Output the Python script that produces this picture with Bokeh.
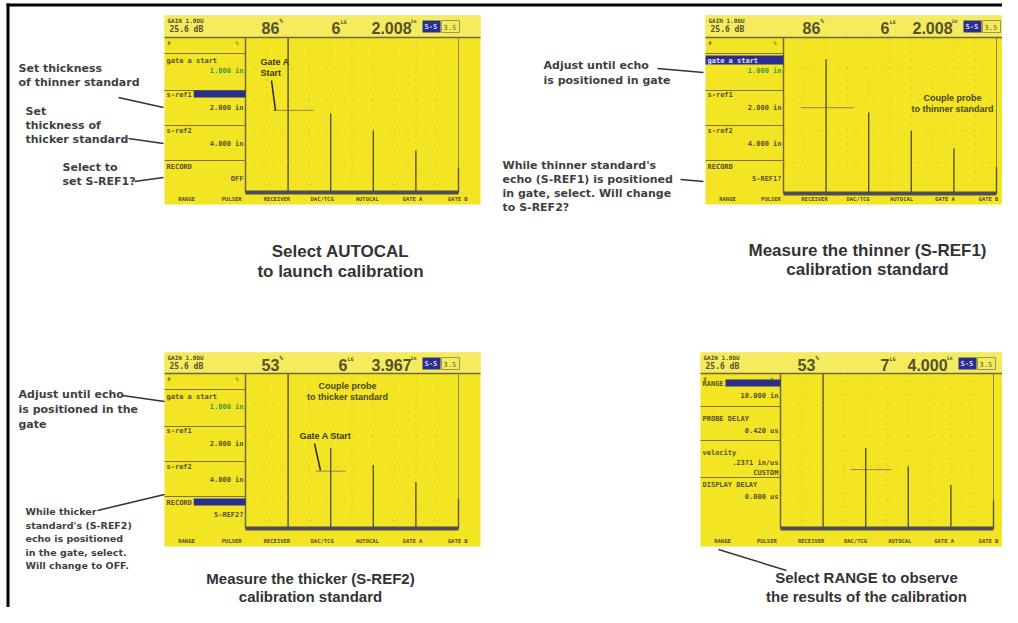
from bokeh.plotting import figure
from bokeh.models import Range1d
from bokeh.core.properties import value
from bokeh.embed import file_html
from bokeh.resources import INLINE

# ------------------------------------------------------------------ data
softkeys = ["RANGE", "PULSER", "RECEIVER", "DAC/TCG", "AUTOCAL", "GATE A", "GATE B"]
echo_in = [2, 4, 6, 8, 10]                 # echo positions (in), 10 in screen range
amp_autocal = [100, 51, 40, 27, 16]        # echo heights, % full screen height
amp_thinner = [86, 52, 40, 29, 17]
amp_thicker = [100, 52, 41, 30, 19]
amp_range = [100, 52, 40, 28, 18]
gate_autocal = [1.3, 3.2, 53]              # gate start (in), end (in), level (%)
gate_thinner = [0.8, 3.3, 55]
gate_thicker = [3.3, 4.7, 37]
gate_range = [3.3, 5.2, 38]
readout_amp = ["86", "86", "53", "53"]
readout_leg = ["6", "6", "6", "7"]
readout_thk = ["2.008", "2.008", "3.967", "4.000"]
menu_cal_labels = ["gate a start", "s-ref1", "s-ref2", "RECORD"]
menu_autocal_values = ["1.000 in", "2.000 in", "4.000 in", "OFF"]
menu_thinner_values = ["1.000 in", "2.000 in", "4.000 in", "S-REF1?"]
menu_thicker_values = ["1.000 in", "2.000 in", "4.000 in", "S-REF2?"]
menu_range_labels = ["RANGE", "PROBE DELAY", "velocity", "DISPLAY DELAY"]
menu_range_values = ["10.000 in", "0.420 us", ".2371 in/us", "0.000 us"]
caption_autocal = ["Select AUTOCAL", "to launch calibration"]
caption_thinner = ["Measure the thinner (S-REF1)", "calibration standard"]
caption_thicker = ["Measure the thicker (S-REF2)", "calibration standard"]
caption_range = ["Select RANGE to observe", "the results of the calibration"]
note_sref1 = ["Set thickness", "of thinner standard"]
note_sref2 = ["Set", "thickness of", "thicker standard"]
note_record1 = ["Select to", "set S-REF1?"]
note_gate1 = ["Adjust until echo", "is positioned in gate"]
note_sel1 = ["While thinner standard's", "echo (S-REF1) is positioned",
             "in gate, select. Will change", "to S-REF2?"]
note_gate2 = ["Adjust until echo", "is positioned in the", "gate"]
note_sel2 = ["While thicker", "standard's (S-REF2)", "echo is positioned",
             "in the gate, select.", "Will change to OFF."]
couple_thinner = ["Couple probe", "to thinner standard"]
couple_thicker = ["Couple probe", "to thicker standard"]

# ------------------------------------------------------------------ style
YEL = "#f3e424"
YEL_H = "#f4eb5e"
INK = "#55512a"
ECHO = "#5a5630"
BLUE = "#2b2f8c"
GREEN = "#3f9a3a"
GRIDC = "#c4b81e"
NOTE = "#3f3f3f"
CAP = "#333333"

W, H = 1002, 607
p = figure(width=W, height=H, output_backend="svg", toolbar_location=None,
           x_range=Range1d(0, W), y_range=Range1d(H, 0),
           x_axis_type=None, y_axis_type=None, min_border=0)
p.grid.visible = False
p.outline_line_color = None
p.background_fill_color = "white"
p.border_fill_color = "white"

# screen layouts: key, x0, y0, x1, header bottom, panel right, graph right, baseline, bottom
layouts = [
    ("a", 164, 15, 480, 37, 245, 458, 192, 204),
    ("b", 705, 15, 1002, 37, 783, 996, 193, 204),
    ("c", 164, 352, 480, 373, 245, 458, 528, 546),
    ("d", 700, 352, 1002, 373, 780, 993, 528, 546),
]
xr, yr = {}, {}
for key, x0, y0, x1, hb, pr, gr, base, bot in layouts:
    kx = (gr - pr) / 10.0
    ky = (base - hb) / 100.0
    xr[key] = Range1d(-pr / kx, (W - pr) / kx)
    yr[key] = Range1d((base - H) / ky, base / ky)
p.extra_x_ranges = xr
p.extra_y_ranges = yr


def T(x, y, s, size, color=INK, font="DejaVu Sans Mono", style="bold",
      align="left", base="middle"):
    p.text(x=[x], y=[y], text=[s], text_font=value(font),
           text_font_size=f"{size}px", text_font_style=style,
           text_color=color, text_align=align, text_baseline=base)


def screen(lay, amps, gate, amp_txt, leg_txt, thk_txt, labels, values, hl,
           full_hl, rng=False, leg_dx=167):
    key, x0, y0, x1, hb, pr, gr, base, bot = lay
    p.quad(left=x0, right=x1, top=y0, bottom=bot, fill_color=YEL, line_color=None)
    p.quad(left=x0, right=x1, top=y0, bottom=hb, fill_color=YEL_H, line_color=None)
    p.segment(x0=x0, y0=hb, x1=x1, y1=hb, line_color="#6d6838", line_width=1.5)
    p.segment(x0=pr, y0=hb, x1=pr, y1=base, line_color="#6d6838", line_width=1.5)
    p.segment(x0=gr, y0=hb, x1=gr, y1=base, line_color="#8d8740", line_width=1)
    # grid (inches / percent through the screen scales)
    gx = [1, 2, 3, 4, 5, 6, 7, 8, 9]
    p.segment(x0=gx, y0=[0] * 9, x1=gx, y1=[100] * 9, x_range_name=key,
              y_range_name=key, line_color=GRIDC, line_dash="1 6", line_width=1)
    gy = [20, 40, 60, 80]
    p.segment(x0=[0] * 4, y0=gy, x1=[10] * 4, y1=gy, x_range_name=key,
              y_range_name=key, line_color=GRIDC, line_dash="1 8", line_width=1)
    # gate
    p.segment(x0=[gate[0]], y0=[gate[2]], x1=[gate[1]], y1=[gate[2]],
              x_range_name=key, y_range_name=key, line_color="#8f8a55", line_width=1)
    # echoes
    p.segment(x0=echo_in, y0=[0] * len(echo_in), x1=echo_in, y1=amps,
              x_range_name=key, y_range_name=key, line_color=ECHO, line_width=1.4)
    # baseline band
    p.segment(x0=[0], y0=[0], x1=[10], y1=[0], x_range_name=key, y_range_name=key,
              line_color="#4d4d5a", line_width=4)
    # header
    T(x0 + 3, y0 + 5, "GAIN  1.0DU", 6)
    T(x0 + 5, y0 + 14, "25.6 dB", 8)
    T(x0 + 97, y0 + 12, amp_txt, 16, font="Liberation Sans")
    T(x0 + 115, y0 + 5, "%", 6)
    T(x0 + leg_dx, y0 + 12, leg_txt, 16, font="Liberation Sans")
    T(x0 + leg_dx + 9, y0 + 6, "LG", 5)
    T(x0 + 207, y0 + 12, thk_txt, 16, font="Liberation Sans")
    T(x0 + 246, y0 + 5, "in", 5)
    p.quad(left=x0 + 258, right=x0 + 276, top=y0 + 5, bottom=y0 + 17,
           fill_color=BLUE, line_color=None)
    T(x0 + 260, y0 + 11, "S-S", 7, color="#d8d8f0")
    p.quad(left=x0 + 277, right=x0 + 295, top=y0 + 5, bottom=y0 + 17,
           fill_color=None, line_color="#9d9750", line_width=1)
    T(x0 + 279, y0 + 11, "3.5", 7, color="#8a8540")
    T(x0 + 3, hb + 5, "0", 5)
    T(pr - 10, hb + 5, "%", 5)
    # menu panel
    if not rng:
        seps = [16, 53, 88, 123]
        lys = [23, 57, 93, 129]
        vys = [33, 70, 106, 141]
    else:
        seps = [33, 67, 104]
        lys = [10, 45, 79, 111]
        vys = [22, 57, 89, 123]
    for s in seps:
        p.segment(x0=x0, y0=hb + s, x1=pr, y1=hb + s, line_color="#7a7540",
                  line_width=1.2)
    for i, (lab, val) in enumerate(zip(labels, values)):
        ly = hb + lys[i]
        col = INK
        if i == hl:
            if full_hl:
                p.quad(left=x0, right=pr, top=ly - 5, bottom=ly + 4,
                       fill_color=BLUE, line_color=None)
                col = "#e0e0f5"
            else:
                w = len(lab) * 4.2 + 4
                p.quad(left=x0 + w, right=pr, top=ly - 4, bottom=ly + 3,
                       fill_color=BLUE, line_color=None)
        T(x0 + 2, ly, lab, 7, color=col)
        vcol = GREEN if i == 0 and not rng else INK
        T(pr - 2, hb + vys[i], val, 7, color=vcol, align="right")
    if rng:
        T(pr - 2, hb + 99, "CUSTOM", 7, align="right")
    # softkeys
    step = min(45.2, (988 - x0 - 22) / 6.0)
    for i, sk in enumerate(softkeys):
        T(x0 + 22 + i * step, bot - 6, sk, 5.5, align="center")


lay = {l[0]: l for l in layouts}
screen(lay["a"], amp_autocal, gate_autocal, readout_amp[0], readout_leg[0],
       readout_thk[0], menu_cal_labels, menu_autocal_values, 1, False)
screen(lay["b"], amp_thinner, gate_thinner, readout_amp[1], readout_leg[1],
       readout_thk[1], menu_cal_labels, menu_thinner_values, 0, True, leg_dx=175)
screen(lay["c"], amp_thicker, gate_thicker, readout_amp[2], readout_leg[2],
       readout_thk[2], menu_cal_labels, menu_thicker_values, 3, False, leg_dx=174)
screen(lay["d"], amp_range, gate_range, readout_amp[3], readout_leg[3],
       readout_thk[3], menu_range_labels, menu_range_values, 0, False, rng=True,
       leg_dx=180)

# in-screen callouts
T(260, 61, "Gate A", 9, color="#3a3812", font="Liberation Sans")
T(260, 72, "Start", 9, color="#3a3812", font="Liberation Sans")
p.segment(x0=271, y0=80, x1=275, y1=110, line_color="#2a2a10", line_width=1.5)
for i, s in enumerate(couple_thinner):
    T(952, 97 + i * 11, s, 9, color="#4a4618", font="Liberation Sans", align="center")
for i, s in enumerate(couple_thicker):
    T(347, 385 + i * 11, s, 9, color="#4a4618", font="Liberation Sans", align="center")
T(325, 435, "Gate A Start", 9, color="#3a3812", font="Liberation Sans", align="center")
p.segment(x0=314, y0=443, x1=320, y1=470, line_color="#2a2a10", line_width=1.5)

# border
p.segment(x0=7.5, y0=3, x1=7.5, y1=607, line_color="black", line_width=3)
p.segment(x0=6, y0=4.5, x1=1002, y1=4.5, line_color="black", line_width=3)


def notes(lines, x, y, step=14, size=11, align="left"):
    for i, s in enumerate(lines):
        T(x, y + i * step, s, size, color=NOTE, font="DejaVu Sans", align=align)


notes(note_sref1, 18, 68)
notes(note_sref2, 25, 111)
notes(note_record1, 62, 167)
notes(note_gate1, 543, 65, step=15)
notes(note_sel1, 502, 165)
notes(note_gate2, 18, 394, step=15)
notes(note_sel2, 25, 511, step=13.5, size=9.5)

leaders = [(118, 97, 163, 107), (128, 138, 163, 143), (134, 181, 163, 177),
           (657, 68, 703, 72), (680, 179, 703, 181), (122, 395, 164, 401),
           (97, 510, 164, 494), (718, 549, 786, 570)]
for a, b, c, d in leaders:
    p.segment(x0=a, y0=b, x1=c, y1=d, line_color="#333333", line_width=1.5)


def caption(lines, cx, y, step, size, font="Liberation Sans"):
    for i, s in enumerate(lines):
        T(cx, y + i * step, s, size, color=CAP, font=font, align="center")


caption(caption_autocal, 340, 251, 20, 17)
caption(caption_thinner, 867, 250, 19, 17)
caption(caption_thicker, 310, 578, 18, 15)
caption(caption_range, 866, 577, 19, 15)

open("out.html", "w").write(file_html(p, INLINE))
